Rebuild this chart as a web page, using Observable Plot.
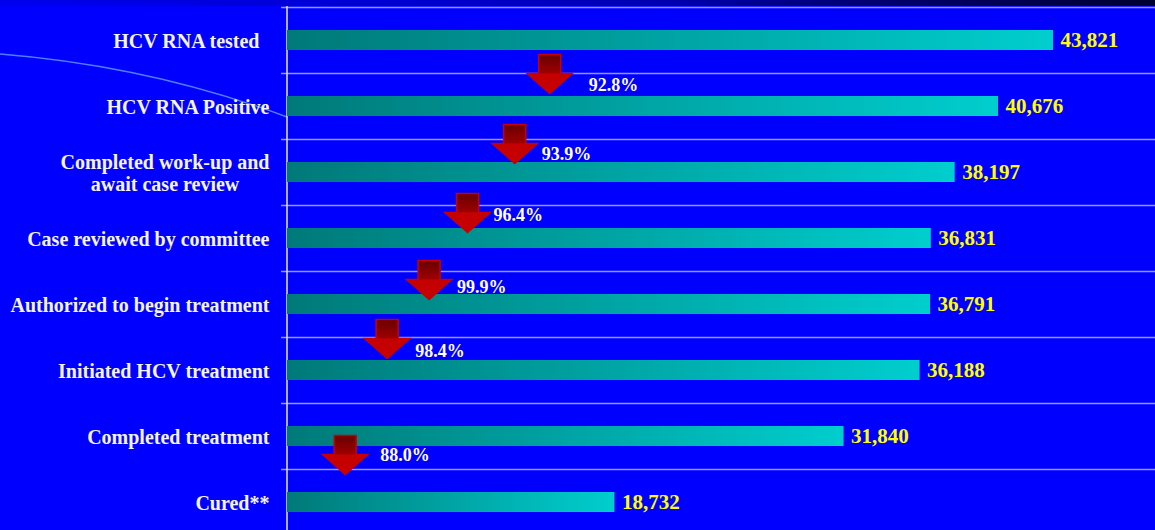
<!DOCTYPE html>
<html>
<head>
<meta charset="utf-8">
<script src="https://cdn.jsdelivr.net/npm/d3@7"></script>
<script src="https://cdn.jsdelivr.net/npm/@observablehq/plot@0.6"></script>
<style>
  html, body { margin: 0; padding: 0; background: #0000FF; }
  #stage {
    position: relative; width: 1155px; height: 530px; overflow: hidden;
    background:
      linear-gradient(to right, #0000EE 0%, #0000D0 35%, #0000B0 58%, #000080 70%, #000030 100%) top left / 100% 6px no-repeat,
      #0000FF;
  }
  #backdrop, #chart svg { position: absolute; left: 0; top: 0; }
</style>
</head>
<body>
<div id="stage">
  <svg id="backdrop" width="1155" height="530">
    <defs>
      <linearGradient id="barFill" x1="0" x2="1" y1="0" y2="0">
        <stop offset="0" stop-color="#007979"/>
        <stop offset="1" stop-color="#00CECE"/>
      </linearGradient>
      <linearGradient id="arrowFill" x1="0" x2="0" y1="0" y2="1">
        <stop offset="0" stop-color="#680000"/>
        <stop offset="0.46" stop-color="#9C0000"/>
        <stop offset="0.5" stop-color="#C40000"/>
        <stop offset="1" stop-color="#C80000"/>
      </linearGradient>
    </defs>
    <!-- slide decoration: thin arc behind the labels -->
    <path d="M0,54 Q150,66 287,117" fill="none" stroke="#4F7FFF" stroke-width="1.4"/>
  </svg>
  <div id="chart"></div>
</div>
<script>
// Cascade steps, top to bottom
const steps = [
  "HCV RNA tested\u00a0\u00a0",
  "HCV RNA Positive",
  "Completed work-up and\nawait case review",
  "Case reviewed by committee",
  "Authorized to begin treatment",
  "Initiated HCV treatment",
  "Completed treatment",
  "Cured**"
];
// Patients reaching each step
const counts = [43821, 40676, 38197, 36831, 36791, 36188, 31840, 18732];

// Step-to-step retention shown beside the red arrows
const rates = [92.8, 93.9, 96.4, 99.9, 98.4, 88.0];
// Step each arrow hangs beneath (index into steps)
const rateFrom = [0, 1, 2, 3, 4, 6];
// Horizontal anchor of each arrow, in patient-count units
const rateAt = [15000, 13000, 10300, 8100, 5700, 3300];

// Arrow placement: tip drop below the step's bar centre, and label offset from the tip (px)
const arrowDrop = [53, 57, 60, 61, 54, 38];
const labelShift = [[39, -8], [27, -9], [26, -17], [28, -12], [28, -7], [35, -19]];

const fmt = d3.format(",");

// Block down-arrow drawn with its tip at the anchor point
const downArrow = {
  draw(ctx) {
    ctx.moveTo(-11, -39);
    ctx.lineTo(11, -39);
    ctx.lineTo(11, -20);
    ctx.lineTo(22.5, -20);
    ctx.lineTo(0, 0);
    ctx.lineTo(-22.5, -20);
    ctx.lineTo(-11, -20);
    ctx.closePath();
  }
};

const arrowMarks = rates.flatMap((r, i) => [
  Plot.dot([i], {
    x: d => rateAt[d],
    y: d => steps[rateFrom[d]],
    symbol: downArrow,
    fill: "url(#arrowFill)",
    stroke: "#C80000",
    strokeWidth: 1.5,
    dy: arrowDrop[i]
  }),
  Plot.text([i], {
    x: d => rateAt[d],
    y: d => steps[rateFrom[d]],
    text: d => `${rates[d].toFixed(1)}%`,
    textAnchor: "start",
    dx: labelShift[i][0],
    dy: arrowDrop[i] + labelShift[i][1],
    fill: "#FFFFFF",
    fontSize: 18,
    fontWeight: "bold"
  })
]);

const chart = Plot.plot({
  width: 1155,
  height: 530,
  marginLeft: 281,
  marginRight: 0,
  marginTop: 6,
  marginBottom: 0,
  x: {domain: [0, 50000], range: [287, 1161], axis: null},
  y: {domain: steps, range: [6.5, 534.5], paddingInner: 46 / 66, paddingOuter: 23 / 66, axis: null},
  style: {
    background: "none",
    overflow: "visible",
    fontFamily: "'Liberation Serif', 'Times New Roman', serif",
    fontWeight: "bold"
  },
  marks: [
    // row separators
    Plot.ruleY(steps, {y: d => d, dy: -33, stroke: "#9494FF", strokeWidth: 1.5}),
    // left axis line
    Plot.ruleX([0], {dx: -0.5, stroke: "#E6E6CC", strokeWidth: 1.5}),
    Plot.barX(steps, {x: (d, i) => counts[i], y: d => d, fill: "url(#barFill)"}),
    // step names
    Plot.text(steps, {
      frameAnchor: "left",
      y: d => d,
      text: d => d,
      textAnchor: "end",
      dx: -12,
      fill: "#F4F4F4",
      fontSize: 20,
      lineHeight: 1.1,
      fontWeight: "bold",
      className: "step-label"
    }),
    // counts
    Plot.text(steps, {
      x: (d, i) => counts[i],
      y: d => d,
      text: (d, i) => fmt(counts[i]),
      textAnchor: "start",
      dx: 7,
      fill: "#FFFF00",
      fontSize: 21,
      fontWeight: "bold"
    }),
    ...arrowMarks
  ]
});

document.getElementById("chart").append(chart);

// Two-line step names are centred as a block whose right edge stays on the label column
d3.select(chart).selectAll(".step-label text").each(function () {
  const spans = this.querySelectorAll("tspan");
  if (spans.length < 2) return;
  const w = d3.max(spans, s => s.getComputedTextLength());
  this.setAttribute("text-anchor", "middle");
  spans.forEach(s => s.setAttribute("x", -w / 2));
});
</script>
</body>
</html>
